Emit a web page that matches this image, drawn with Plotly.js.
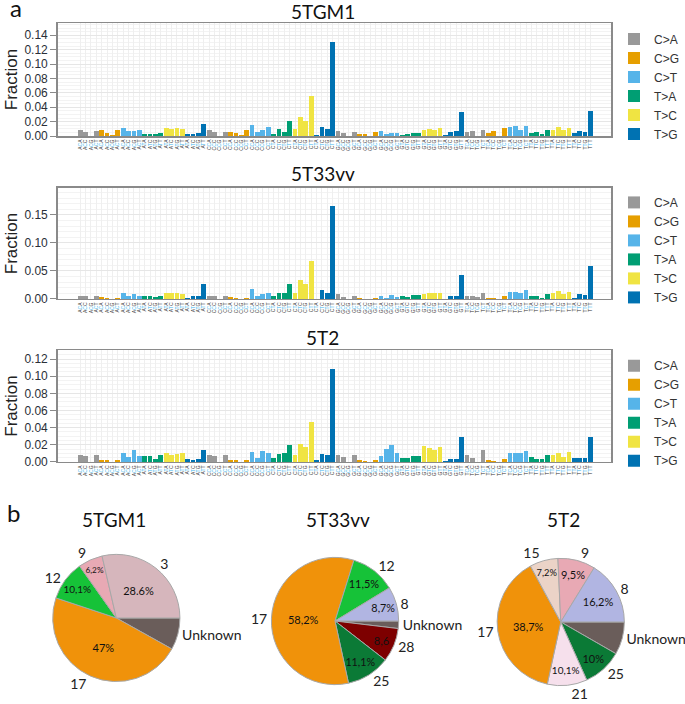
<!DOCTYPE html>
<html>
<head>
<meta charset="utf-8">
<script src="https://cdn.plot.ly/plotly-3.0.1.min.js"></script>
<style>
  html, body { margin: 0; padding: 0; background: #fff; }
  #chart { width: 685px; height: 704px; }
</style>
</head>
<body>
<div id="chart"></div>
<script>
// ------------------------------------------------------------------------------
// DATA

const bases      = ['A', 'C', 'G', 'T'];
const mut_types  = ['C>A', 'C>G', 'C>T', 'T>A', 'T>C', 'T>G'];
const mut_colors = ['#999999', '#e69f00', '#56b4e9', '#009e73', '#f0e442', '#0072b2'];

// fractions per trinucleotide context, ordered by 5' base, then type, then 3' base
const frac_5tgm1 = [
    0.009, 0.006, 0.0005, 0.007,   0.008, 0.0045, 0.0015, 0.008,
    0.011, 0.0065, 0.0065, 0.008,  0.003, 0.003, 0.003, 0.0045,
    0.011, 0.010, 0.011, 0.010,    0.0025, 0.003, 0.0045, 0.017,
    0.008, 0.0055, 0.0005, 0.0055, 0.0055, 0.0045, 0.002, 0.008,
    0.016, 0.0055, 0.008, 0.0125,  0.0025, 0.010, 0.0055, 0.021,
    0.010, 0.027, 0.021, 0.056,    0.0015, 0.0125, 0.010, 0.130,
    0.0065, 0.004, 0.0003, 0.0055, 0.003, 0.003, 0.0005, 0.006,
    0.0065, 0.003, 0.0045, 0.0045, 0.0015, 0.003, 0.0045, 0.0045,
    0.008, 0.010, 0.009, 0.011,    0.0015, 0.0055, 0.0065, 0.034,
    0.0055, 0.0065, 0.0005, 0.009, 0.004, 0.0065, 0.0005, 0.011,
    0.0125, 0.0135, 0.009, 0.0135, 0.0045, 0.0055, 0.0025, 0.008,
    0.009, 0.0125, 0.008, 0.0115,  0.0045, 0.007, 0.0055, 0.035
];

const frac_5t33vv = [
    0.006, 0.005, 0.0005, 0.006,   0.003, 0.002, 0.0005, 0.0025,
    0.0115, 0.005, 0.0095, 0.006,  0.0045, 0.0045, 0.003, 0.006,
    0.0115, 0.010, 0.0115, 0.009,  0.002, 0.0045, 0.0045, 0.027,
    0.0055, 0.0045, 0.0005, 0.0045, 0.003, 0.002, 0.0005, 0.0025,
    0.017, 0.005, 0.0095, 0.011,   0.005, 0.0115, 0.0115, 0.0265,
    0.0115, 0.034, 0.0265, 0.067,  0.0005, 0.016, 0.0115, 0.166,
    0.009, 0.003, 0.0005, 0.005,   0.002, 0.0005, 0.0005, 0.0025,
    0.005, 0.002, 0.008, 0.0035,   0.005, 0.0035, 0.008, 0.0065,
    0.009, 0.010, 0.010, 0.0115,   0.0005, 0.005, 0.005, 0.042,
    0.005, 0.005, 0.003, 0.010,    0.0025, 0.0025, 0.0005, 0.005,
    0.0125, 0.0125, 0.0115, 0.016, 0.005, 0.005, 0.0025, 0.009,
    0.010, 0.0145, 0.009, 0.0125,  0.0025, 0.009, 0.0065, 0.058
];

const frac_5t2 = [
    0.008, 0.007, 0.0003, 0.008,   0.0027, 0.002, 0.0004, 0.0027,
    0.011, 0.0055, 0.014, 0.0075,  0.0065, 0.0075, 0.004, 0.008,
    0.011, 0.0085, 0.009, 0.011,   0.004, 0.0027, 0.004, 0.014,
    0.008, 0.0065, 0.0003, 0.008,  0.0027, 0.002, 0.0004, 0.002,
    0.0115, 0.005, 0.0125, 0.010,  0.0045, 0.009, 0.011, 0.0195,
    0.008, 0.0205, 0.017, 0.0465,  0.002, 0.009, 0.0085, 0.108,
    0.008, 0.0055, 0.0003, 0.008,  0.0023, 0.0015, 0.0004, 0.002,
    0.0075, 0.0155, 0.020, 0.010,  0.0045, 0.0045, 0.0065, 0.0075,
    0.019, 0.016, 0.014, 0.017,    0.0015, 0.004, 0.004, 0.029,
    0.008, 0.0045, 0.0003, 0.014,  0.002, 0.0012, 0.0004, 0.004,
    0.010, 0.010, 0.011, 0.0125,   0.006, 0.004, 0.004, 0.008,
    0.008, 0.011, 0.006, 0.012,    0.0045, 0.0045, 0.0045, 0.0295
];

// signature pies, listed clockwise starting at 3 o'clock
const pie1_labels = ['Unknown', '17', '12', '9', '3'];
const pie1_values = [8.1, 47, 10.1, 6.2, 28.6];
const pie1_text   = ['', '47%', '10,1%', '6,2%', '28.6%'];
const pie1_colors = ['#6a5d5a', '#f0920a', '#16c238', '#e8a9b4', '#d6b6bc'];

const pie2_labels = ['Unknown', '28', '25', '17', '12', '8'];
const pie2_values = [1.9, 8.6, 11.1, 58.2, 11.5, 8.7];
const pie2_text   = ['', '8,6', '11,1%', '58,2%', '11,5%', '8,7%'];
const pie2_colors = ['#6a5d5a', '#7d0000', '#0b7a36', '#f0920a', '#16c238', '#b1b5e2'];

const pie3_labels = ['Unknown', '25', '21', '17', '15', '9', '8'];
const pie3_values = [8.3, 10, 10.1, 38.7, 7.2, 9.5, 16.2];
const pie3_text   = ['', '10%', '10,1%', '38,7%', '7,2%', '9,5%', '16,2%'];
const pie3_colors = ['#6a5d5a', '#0b7a36', '#f6e0ec', '#f0920a', '#ebd3c7', '#e8a9b4', '#b1b5e2'];


// ------------------------------------------------------------------------------
// CONTEXTS

const contexts       = [];
const context_labels = [];
const context_type   = [];
for (const b5 of bases) {
    for (let t = 0; t < mut_types.length; t++) {
        const ref = mut_types[t][0];
        for (const b3 of bases) {
            contexts.push(b5 + '[' + mut_types[t] + ']' + b3);
            context_labels.push(b5 + '<span style="color:#3db5ec">' + ref + '</span>' + b3);
            context_type.push(t);
        }
    }
}


// ------------------------------------------------------------------------------
// LAYOUT

const font_axis  = 'Liberation Sans, Arial, sans-serif';
const font_title = 'Lato, Open Sans, sans-serif';
const x_domain   = [0.0847, 0.8978];

const panels = [
    {title: '5TGM1',  values: frac_5tgm1,  ydom: [0.8068, 0.9673], yrange: [0, 0.157], dtick: 0.02, minor: 0.005, legend_y: 0.877, title_y: 0.984},
    {title: '5T33vv', values: frac_5t33vv, ydom: [0.5753, 0.7330], yrange: [0, 0.198], dtick: 0.05, minor: 0.01,  legend_y: 0.645, title_y: 0.754},
    {title: '5T2',    values: frac_5t2,    ydom: [0.3438, 0.5028], yrange: [0, 0.1305], dtick: 0.02, minor: 0.005, legend_y: 0.413, title_y: 0.520},
];

const traces = [];
const layout = {
    width: 685,
    height: 704,
    margin: {l: 0, r: 0, t: 0, b: 0},
    paper_bgcolor: '#ffffff',
    plot_bgcolor: '#ffffff',
    barmode: 'stack',
    bargap: 0.12,
    showlegend: true,
    font: {family: font_axis, color: '#222'},
    annotations: [],
};

panels.forEach((p, k) => {
    const sfx = k === 0 ? '' : String(k + 1);
    const legend_name = 'legend' + sfx;

    for (let t = 0; t < mut_types.length; t++) {
        const xs = [];
        const ys = [];
        for (let i = 0; i < contexts.length; i++) {
            if (context_type[i] === t) {
                xs.push(contexts[i]);
                ys.push(p.values[i]);
            }
        }
        traces.push({
            type: 'bar',
            name: mut_types[t],
            x: xs,
            y: ys,
            xaxis: 'x' + sfx,
            yaxis: 'y' + sfx,
            legend: legend_name,
            marker: {color: mut_colors[t], line: {width: 0}},
            hoverinfo: 'x+y',
        });
    }

    layout['xaxis' + sfx] = {
        domain: x_domain,
        anchor: 'y' + sfx,
        type: 'category',
        categoryorder: 'array',
        categoryarray: contexts,
        tickvals: contexts,
        ticktext: context_labels,
        tickangle: -90,
        tickfont: {size: 5, color: '#333', family: font_axis},
        range: [-4.2, 98.9],
        showgrid: true,
        gridcolor: '#efefef',
        gridwidth: 1,
        showline: true,
        mirror: true,
        linecolor: '#8a8a8a',
        linewidth: 1.5,
        ticks: '',
        zeroline: false,
        automargin: false,
    };
    layout['yaxis' + sfx] = {
        domain: p.ydom,
        anchor: 'x' + sfx,
        range: p.yrange,
        dtick: p.dtick,
        tick0: 0,
        tickformat: '.2f',
        tickfont: {size: 12, color: '#2a2f38', family: font_axis},
        ticks: 'outside',
        ticklen: 6,
        tickcolor: '#8a8a8a',
        showgrid: true,
        gridcolor: '#e6e6e6',
        minor: {dtick: p.minor, showgrid: true, gridcolor: '#f3f3f3'},
        showline: true,
        mirror: true,
        linecolor: '#8a8a8a',
        linewidth: 1.5,
        zeroline: false,
        automargin: false,
        title: {text: 'Fraction', font: {size: 17, color: '#222', family: font_axis}, standoff: 2},
    };
    layout[legend_name] = {
        x: 0.902,
        xanchor: 'left',
        y: p.legend_y,
        yanchor: 'middle',
        traceorder: 'normal',
        bgcolor: 'rgba(0,0,0,0)',
        font: {size: 12, color: '#333', family: font_axis},
        tracegroupgap: 0,
    };
    layout.annotations.push({
        text: p.title,
        x: 0.474, y: p.title_y,
        xref: 'paper', yref: 'paper',
        xanchor: 'center', yanchor: 'middle',
        showarrow: false,
        font: {size: 19, color: '#111', family: font_title},
    });
});

// panel letters
layout.annotations.push({
    text: 'a', x: 0.023, y: 0.989, xref: 'paper', yref: 'paper',
    xanchor: 'center', yanchor: 'middle', showarrow: false,
    font: {size: 24, color: '#111', family: font_title},
});
layout.annotations.push({
    text: 'b', x: 0.020, y: 0.272, xref: 'paper', yref: 'paper',
    xanchor: 'center', yanchor: 'middle', showarrow: false,
    font: {size: 24, color: '#111', family: font_title},
});


// ------------------------------------------------------------------------------
// PIES

function pieTraces(labels, values, inside, colors, domain) {
    const common = {
        type: 'pie',
        labels: labels,
        values: values,
        sort: false,
        direction: 'clockwise',
        rotation: 90,
        domain: domain,
        showlegend: false,
        hoverinfo: 'skip',
    };
    return [
        Object.assign({}, common, {
            text: inside,
            texttemplate: '%{text}',
            textposition: 'inside',
            insidetextorientation: 'horizontal',
            insidetextfont: {size: 11, color: '#111', family: font_title},
            marker: {colors: colors, line: {color: '#a8a8a8', width: 1}},
        }),
        Object.assign({}, common, {
            textinfo: 'label',
            textposition: 'outside',
            outsidetextfont: {size: 14, color: '#222', family: font_title},
            marker: {colors: labels.map(() => 'rgba(0,0,0,0)'), line: {width: 0}},
        }),
    ];
}

traces.push(...pieTraces(pie1_labels, pie1_values, pie1_text, pie1_colors, {x: [0.0774, 0.2642], y: [0.0313, 0.2131]}));
traces.push(...pieTraces(pie2_labels, pie2_values, pie2_text, pie2_colors, {x: [0.3985, 0.5854], y: [0.0270, 0.2088]}));
traces.push(...pieTraces(pie3_labels, pie3_values, pie3_text, pie3_colors, {x: [0.7300, 0.9168], y: [0.0256, 0.2074]}));

const pie_titles = [['5TGM1', 0.168], ['5T33vv', 0.496], ['5T2', 0.828]];
for (const [txt, xp] of pie_titles) {
    layout.annotations.push({
        text: txt, x: xp, y: 0.262, xref: 'paper', yref: 'paper',
        xanchor: 'center', yanchor: 'middle', showarrow: false,
        font: {size: 19, color: '#111', family: font_title},
    });
}

Plotly.newPlot('chart', traces, layout, {displayModeBar: false, staticPlot: true});
</script>
</body>
</html>
